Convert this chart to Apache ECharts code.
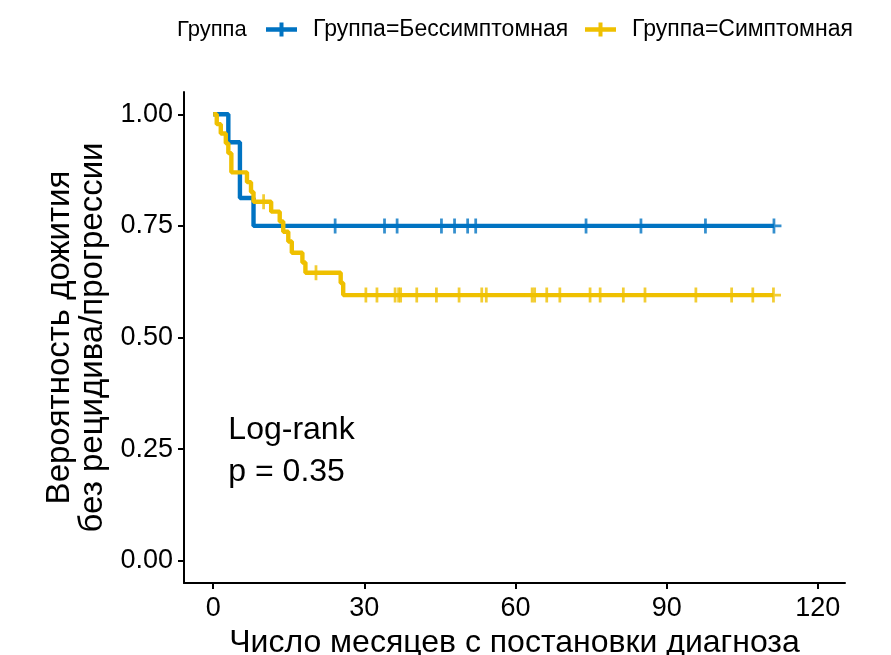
<!DOCTYPE html>
<html><head><meta charset="utf-8">
<script src="https://cdn.jsdelivr.net/npm/echarts@6/dist/echarts.min.js"></script>
<style>html,body{margin:0;padding:0;background:#fff}#c{width:891px;height:655px}</style>
</head><body><div id="c"></div>
<script>
// ---- data ----
const legendTitle = 'Группа';
const seriesNames = ['Группа=Бессимптомная', 'Группа=Симптомная'];
const xTicks = [0, 30, 60, 90, 120];
const yTicks = [0, 0.25, 0.5, 0.75, 1];
const blueTimes = [0, 3.0, 5.3, 8.0, 111.3];
const blueSurv  = [1, 0.9375, 0.8125, 0.75, 0.75];
const blueCensor = [24.2, 34.0, 36.5, 45.3, 47.9, 50.5, 52.1, 74.0, 84.9, 97.7, 111.3];
const yellowTimes = [0, 0.7, 1.5, 2.5, 3.0, 3.6, 6.7, 7.5, 8.0, 11.5, 13.2, 13.9, 14.9, 15.6, 17.7, 18.3, 25.3, 25.8, 111.2];
const yellowSurv  = [1, 0.978, 0.957, 0.935, 0.913, 0.870, 0.848, 0.826, 0.804, 0.782, 0.760, 0.737, 0.715, 0.690, 0.668, 0.645, 0.622, 0.595, 0.595];
const yellowCensor = [10.0, 20.4, 30.3, 32.5, 36.1, 36.8, 37.2, 40.4, 44.3, 48.8, 53.3, 54.2, 63.3, 63.8, 66.2, 68.8, 74.8, 76.8, 81.4, 85.7, 95.8, 102.9, 107.1, 111.2];
const pvalText = ['Log-rank', 'p = 0.35'];
const pvalPos = [3, 0.245];

const colors = ['#0073C2', '#EFC000'];
const FONT = "'Liberation Sans', Arial, sans-serif";

function stepAt(times, surv, t) {
  let v = surv[0];
  for (let i = 0; i < times.length; i++) if (times[i] <= t) v = surv[i];
  return v;
}
const curve = (T, S) => T.map((t, i) => [t, S[i]]);
const marks = (C, T, S) => C.map(t => [t, stepAt(T, S, t)]);

const plus = 'path://M-1.1,-6 L1.1,-6 L1.1,-1.1 L6,-1.1 L6,1.1 L1.1,1.1 L1.1,6 L-1.1,6 L-1.1,1.1 L-6,1.1 L-6,-1.1 L-1.1,-1.1 Z';
// legend key: horizontal line with a cross, padded inside a 50x14 box
const legendIcon = 'path://M0,-7 L0.01,-7 L0,-6.99 Z M50,7 L49.99,7 L50,6.99 Z ' +
  'M8,-2.3 L21.5,-2.3 L21.5,-7 L25.5,-7 L25.5,-2.3 L39,-2.3 L39,2.3 L25.5,2.3 L25.5,7 L21.5,7 L21.5,2.3 L8,2.3 Z';

const chart = echarts.init(document.getElementById('c'), null, {renderer: 'canvas'});
const axisLine = {show: true, onZero: false, lineStyle: {color: '#000', width: 2}};
const legendCommon = {
  top: 18, itemWidth: 50, itemHeight: 14, padding: 0,
  textStyle: {fontSize: 23, color: '#000', fontFamily: FONT}
};
const option = {
  animation: false,
  color: colors,
  textStyle: {fontFamily: FONT},
  grid: {left: 184, right: 46, top: 92, bottom: 72, containLabel: false, outerBoundsMode: 'none'},
  legend: [
    {...legendCommon, left: 258, data: [{name: seriesNames[0], icon: legendIcon}]},
    {...legendCommon, left: 577, data: [{name: seriesNames[1], icon: legendIcon}]}
  ],
  xAxis: {
    type: 'value', min: -5.8, max: 125.4,
    axisLine: axisLine,
    splitLine: {show: false},
    axisTick: {show: true, length: 6, lineStyle: {color: '#000', width: 2}, customValues: xTicks},
    axisLabel: {customValues: xTicks, fontSize: 27, color: '#000', margin: 12, fontFamily: FONT},
    name: 'Число месяцев с постановки диагноза', nameLocation: 'middle', nameGap: 42,
    nameTextStyle: {fontSize: 32, color: '#000', fontFamily: FONT}
  },
  yAxis: {
    type: 'value', min: -0.05, max: 1.05,
    axisLine: axisLine,
    splitLine: {show: false},
    axisTick: {show: true, length: 6, lineStyle: {color: '#000', width: 2}, customValues: yTicks},
    axisLabel: {customValues: yTicks, fontSize: 27, color: '#000', margin: 11, fontFamily: FONT,
      formatter: v => Number(v).toFixed(2)},
    name: 'Вероятность дожития\nбез рецидива/прогрессии', nameLocation: 'middle', nameGap: 66,
    nameRotate: 90,
    nameTextStyle: {fontSize: 33, color: '#000', fontFamily: FONT, lineHeight: 33}
  },
  series: [
    {name: seriesNames[0], type: 'line', step: 'end', data: curve(blueTimes, blueSurv),
     showSymbol: false, lineStyle: {width: 4.4, color: colors[0]}, z: 2},
    {name: seriesNames[1], type: 'line', step: 'end', data: curve(yellowTimes, yellowSurv),
     showSymbol: false, lineStyle: {width: 4.4, color: colors[1]}, z: 3},
    {name: seriesNames[0], type: 'scatter', data: marks(blueCensor, blueTimes, blueSurv),
     symbol: plus, symbolSize: 15, itemStyle: {color: colors[0]}, z: 4},
    {name: seriesNames[1], type: 'scatter', data: marks(yellowCensor, yellowTimes, yellowSurv),
     symbol: plus, symbolSize: 15, itemStyle: {color: colors[1]}, z: 5}
  ]
};
chart.setOption(option);
const p = chart.convertToPixel({gridIndex: 0}, pvalPos);
chart.setOption({
  graphic: [
    {type: 'text', left: 177, top: 19, style: {text: legendTitle, fontSize: 22, fill: '#000', fontFamily: FONT}},
    {type: 'text', x: p[0], y: p[1], style: {text: pvalText.join('\n'), fontSize: 32, lineHeight: 42,
      fill: '#000', fontFamily: FONT, verticalAlign: 'middle', align: 'left'}}
  ]
});
</script></body></html>
